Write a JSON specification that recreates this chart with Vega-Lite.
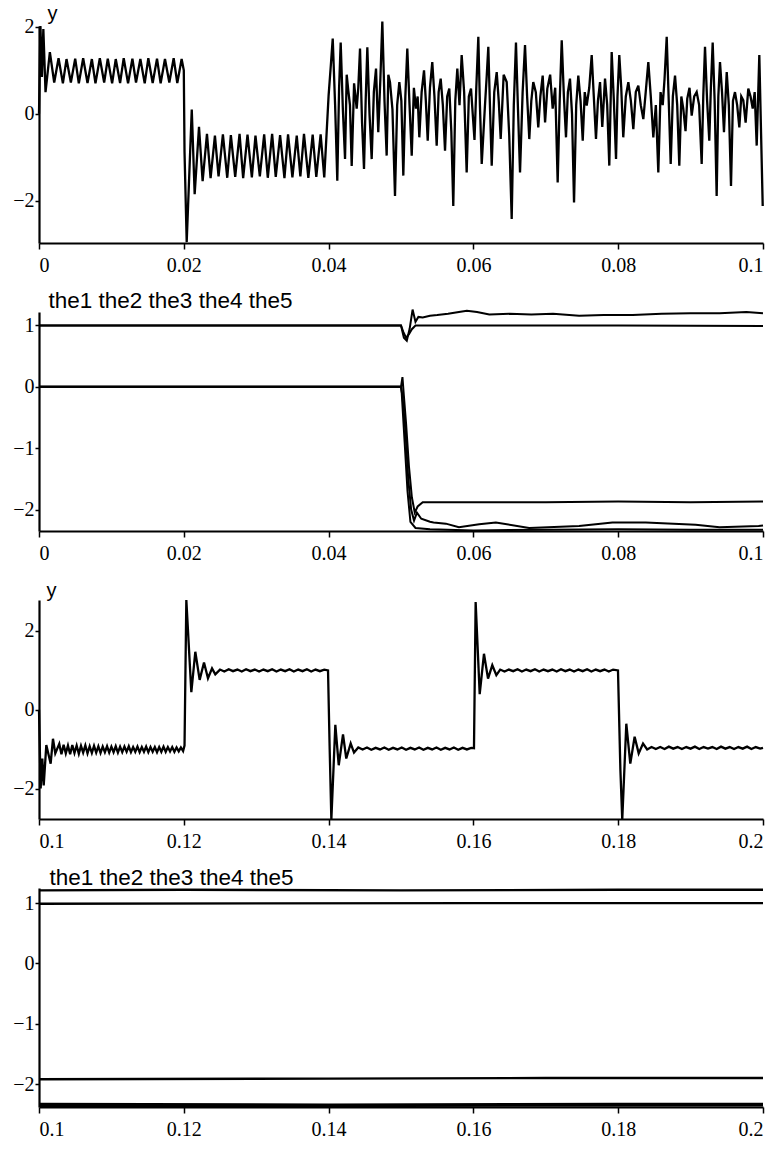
{
  "$schema": "https://vega.github.io/schema/vega-lite/v6.json",
  "background": "white",
  "padding": {"left": 12, "top": 3, "right": 10, "bottom": 5},
  "bounds": "flush",
  "spacing": 69,
  "datasets": {
    "sig1": [
      {"t":0,"v":0},{"t":0.0002,"v":2.02},{"t":0.0004,"v":0.85},{"t":0.0006,"v":1.95},{"t":0.0009,"v":0.5},{"t":0.0015,"v":1.42},{"t":0.0021,"v":0.72},{"t":0.0027,"v":1.28},{"t":0.0033,"v":0.7},{"t":0.0038,"v":1.26},{"t":0.0044,"v":0.72},{"t":0.005,"v":1.27},{"t":0.0055,"v":0.7},{"t":0.0061,"v":1.28},{"t":0.0067,"v":0.71},{"t":0.0073,"v":1.26},{"t":0.0078,"v":0.7},{"t":0.0084,"v":1.28},{"t":0.009,"v":0.72},{"t":0.0095,"v":1.27},{"t":0.0101,"v":0.7},{"t":0.0106,"v":1.26},{"t":0.0112,"v":0.71},{"t":0.0117,"v":1.28},{"t":0.0123,"v":0.7},{"t":0.0129,"v":1.27},{"t":0.0134,"v":0.72},{"t":0.014,"v":1.26},{"t":0.0146,"v":0.7},{"t":0.0151,"v":1.28},{"t":0.0157,"v":0.71},{"t":0.0163,"v":1.27},{"t":0.0168,"v":0.7},{"t":0.0174,"v":1.26},{"t":0.018,"v":0.72},{"t":0.0186,"v":1.28},{"t":0.0191,"v":0.71},{"t":0.0197,"v":1.26},{"t":0.02,"v":1.0},
      {"t":0.0201,"v":-0.88},{"t":0.0204,"v":-2.95},{"t":0.0211,"v":0.1},{"t":0.0215,"v":-1.85},{"t":0.0221,"v":-0.3},{"t":0.0226,"v":-1.55},{"t":0.0232,"v":-0.46},{"t":0.0237,"v":-1.48},{"t":0.0243,"v":-0.5},{"t":0.0248,"v":-1.44},{"t":0.0254,"v":-0.47},{"t":0.026,"v":-1.47},{"t":0.0265,"v":-0.49},{"t":0.0271,"v":-1.45},{"t":0.0277,"v":-0.46},{"t":0.0282,"v":-1.48},{"t":0.0288,"v":-0.48},{"t":0.0294,"v":-1.46},{"t":0.0299,"v":-0.5},{"t":0.0305,"v":-1.44},{"t":0.0311,"v":-0.47},{"t":0.0316,"v":-1.47},{"t":0.0322,"v":-0.46},{"t":0.0327,"v":-1.45},{"t":0.0333,"v":-0.49},{"t":0.0339,"v":-1.48},{"t":0.0344,"v":-0.47},{"t":0.035,"v":-1.46},{"t":0.0356,"v":-0.5},{"t":0.0361,"v":-1.44},{"t":0.0366,"v":-0.46},{"t":0.0372,"v":-1.47},{"t":0.0378,"v":-0.48},{"t":0.0383,"v":-1.45},{"t":0.0389,"v":-0.47},{"t":0.0394,"v":-1.46},{"t":0.04,"v":0.42},
      {"t":0.0403,"v":1.1},{"t":0.04057,"v":1.73},{"t":0.0409,"v":0.2},{"t":0.0412,"v":-1.54},{"t":0.04145,"v":0.6},{"t":0.04167,"v":1.64},{"t":0.04197,"v":0.1},{"t":0.04227,"v":-1.04},{"t":0.0425,"v":0.9},{"t":0.04272,"v":0.54},{"t":0.04295,"v":0.2},{"t":0.04319,"v":-1.2},{"t":0.04352,"v":0.7},{"t":0.04388,"v":0.12},{"t":0.0441,"v":0.6},{"t":0.04434,"v":1.5},{"t":0.04462,"v":-0.2},{"t":0.04489,"v":-1.27},{"t":0.04512,"v":0.3},{"t":0.04535,"v":1.53},{"t":0.04565,"v":0.0},{"t":0.04595,"v":-1.04},{"t":0.04625,"v":0.5},{"t":0.04655,"v":1.04},{"t":0.0467,"v":0.3},{"t":0.04686,"v":-0.42},{"t":0.04715,"v":0.8},{"t":0.04742,"v":2.12},{"t":0.04772,"v":0.3},{"t":0.04802,"v":-0.96},{"t":0.04825,"v":0.9},{"t":0.04848,"v":0.73},{"t":0.04882,"v":0.1},{"t":0.04917,"v":-1.89},{"t":0.04947,"v":0.2},{"t":0.04977,"v":0.73},{"t":0.05005,"v":0.3},{"t":0.05032,"v":-1.42},{"t":0.0506,"v":0.4},{"t":0.05087,"v":1.5},{"t":0.05118,"v":0.2},{"t":0.05148,"v":-0.96},{"t":0.05178,"v":0.6},{"t":0.05207,"v":0.12},{"t":0.0523,"v":0.4},{"t":0.05253,"v":-0.54},{"t":0.05285,"v":0.5},{"t":0.05318,"v":1.0},{"t":0.05343,"v":0.3},{"t":0.05369,"v":-0.62},{"t":0.054,"v":0.6},{"t":0.05432,"v":1.19},{"t":0.05462,"v":0.4},{"t":0.05493,"v":-0.73},{"t":0.0552,"v":0.5},{"t":0.05548,"v":0.81},{"t":0.05578,"v":0.2},{"t":0.05608,"v":-0.85},{"t":0.05638,"v":0.4},{"t":0.05667,"v":0.58},{"t":0.05695,"v":-0.4},{"t":0.05722,"v":-2.12},{"t":0.0575,"v":0.3},{"t":0.05778,"v":1.04},{"t":0.05808,"v":0.2},{"t":0.05838,"v":1.35},{"t":0.05872,"v":0.5},{"t":0.05907,"v":-1.35},{"t":0.05937,"v":0.4},{"t":0.05967,"v":0.58},{"t":0.06015,"v":-0.6},{"t":0.0604,"v":0.6},{"t":0.06068,"v":1.77},{"t":0.0609,"v":0.2},{"t":0.06115,"v":-1.15},{"t":0.0616,"v":0.2},{"t":0.06185,"v":0.9},{"t":0.06206,"v":1.54},{"t":0.0623,"v":0.1},{"t":0.06253,"v":-1.19},{"t":0.06288,"v":0.5},{"t":0.06322,"v":0.96},{"t":0.0635,"v":0.3},{"t":0.06377,"v":-0.58},{"t":0.06418,"v":0.9},{"t":0.0646,"v":0.73},{"t":0.06495,"v":-0.5},{"t":0.06529,"v":-2.42},{"t":0.06558,"v":0.2},{"t":0.06588,"v":1.64},{"t":0.06616,"v":0.1},{"t":0.06644,"v":-1.35},{"t":0.0668,"v":0.5},{"t":0.06713,"v":1.58},{"t":0.06742,"v":0.4},{"t":0.06772,"v":-0.58},{"t":0.068,"v":0.3},{"t":0.06827,"v":0.73},{"t":0.06862,"v":0.5},{"t":0.06896,"v":-0.31},{"t":0.06925,"v":0.4},{"t":0.06957,"v":0.88},{"t":0.0699,"v":-0.2},{"t":0.07021,"v":0.58},{"t":0.0706,"v":0.9},{"t":0.07095,"v":0.12},{"t":0.0713,"v":0.6},{"t":0.07164,"v":-1.58},{"t":0.07192,"v":0.3},{"t":0.0722,"v":1.69},{"t":0.0725,"v":0.4},{"t":0.07279,"v":-0.54},{"t":0.07305,"v":0.5},{"t":0.07334,"v":0.81},{"t":0.07362,"v":0.0},{"t":0.0739,"v":-2.04},{"t":0.0742,"v":0.2},{"t":0.07449,"v":0.88},{"t":0.0748,"v":0.3},{"t":0.0751,"v":-0.62},{"t":0.07538,"v":0.5},{"t":0.07565,"v":0.19},{"t":0.076,"v":0.6},{"t":0.07634,"v":1.35},{"t":0.07663,"v":0.4},{"t":0.07693,"v":-0.58},{"t":0.0772,"v":0.3},{"t":0.07749,"v":0.73},{"t":0.0778,"v":-0.3},{"t":0.07818,"v":0.81},{"t":0.07848,"v":0.2},{"t":0.07877,"v":-1.19},{"t":0.0791,"v":1.42},{"t":0.0794,"v":0.3},{"t":0.0797,"v":-1.04},{"t":0.0799,"v":0.4},{"t":0.08015,"v":1.35},{"t":0.08042,"v":0.6},{"t":0.0807,"v":-0.54},{"t":0.08105,"v":0.4},{"t":0.0814,"v":0.73},{"t":0.08175,"v":0.3},{"t":0.08209,"v":-0.35},{"t":0.08243,"v":0.5},{"t":0.08278,"v":0.65},{"t":0.08312,"v":0.2},{"t":0.08347,"v":-0.12},{"t":0.0838,"v":0.5},{"t":0.08416,"v":1.19},{"t":0.0845,"v":0.4},{"t":0.08485,"v":-0.54},{"t":0.0852,"v":0.2},{"t":0.08554,"v":-1.35},{"t":0.08585,"v":0.5},{"t":0.08615,"v":0.2},{"t":0.0864,"v":0.8},{"t":0.0867,"v":1.77},{"t":0.08698,"v":0.3},{"t":0.08725,"v":-1.15},{"t":0.08755,"v":0.4},{"t":0.08785,"v":0.88},{"t":0.08815,"v":0.2},{"t":0.08844,"v":-1.19},{"t":0.08872,"v":0.4},{"t":0.08899,"v":0.12},{"t":0.0893,"v":-0.4},{"t":0.08954,"v":0.35},{"t":0.08985,"v":0.6},{"t":0.09015,"v":-0.04},{"t":0.0905,"v":0.4},{"t":0.09084,"v":0.5},{"t":0.09118,"v":0.2},{"t":0.09153,"v":-1.15},{"t":0.09175,"v":0.4},{"t":0.09199,"v":1.54},{"t":0.09228,"v":0.3},{"t":0.09258,"v":-0.62},{"t":0.0928,"v":0.6},{"t":0.09305,"v":1.64},{"t":0.09332,"v":0.3},{"t":0.0936,"v":-1.89},{"t":0.09383,"v":0.4},{"t":0.09406,"v":1.19},{"t":0.09434,"v":0.5},{"t":0.09461,"v":-0.42},{"t":0.0948,"v":0.3},{"t":0.09499,"v":0.96},{"t":0.09528,"v":0.2},{"t":0.09558,"v":-1.66},{"t":0.09585,"v":0.3},{"t":0.09613,"v":0.5},{"t":0.09643,"v":0.2},{"t":0.09673,"v":-0.31},{"t":0.097,"v":0.4},{"t":0.09728,"v":0.31},{"t":0.0976,"v":-0.2},{"t":0.09797,"v":0.58},{"t":0.09828,"v":0.4},{"t":0.09858,"v":0.12},{"t":0.09885,"v":0.5},{"t":0.09913,"v":-0.73},{"t":0.09949,"v":1.35},{"t":0.09996,"v":-2.12}
    ],
    "theta1": [
      {"s":"the1","t":0,"v":1.0},{"s":"the1","t":0.05,"v":1.0},{"s":"the1","t":0.0503,"v":0.9},{"s":"the1","t":0.0507,"v":0.8},{"s":"the1","t":0.0511,"v":0.86},{"s":"the1","t":0.0515,"v":0.94},{"s":"the1","t":0.052,"v":1.0},{"s":"the1","t":0.06,"v":1.0},{"s":"the1","t":0.07,"v":1.0},{"s":"the1","t":0.08,"v":1.0},{"s":"the1","t":0.09,"v":0.995},{"s":"the1","t":0.1,"v":0.99},
      {"s":"the2","t":0,"v":1.0},{"s":"the2","t":0.05,"v":1.0},{"s":"the2","t":0.0504,"v":0.8},{"s":"the2","t":0.0508,"v":0.75},{"s":"the2","t":0.0512,"v":0.95},{"s":"the2","t":0.0516,"v":1.26},{"s":"the2","t":0.052,"v":1.06},{"s":"the2","t":0.0524,"v":1.14},{"s":"the2","t":0.053,"v":1.13},{"s":"the2","t":0.054,"v":1.16},{"s":"the2","t":0.055,"v":1.17},{"s":"the2","t":0.0565,"v":1.19},{"s":"the2","t":0.058,"v":1.22},{"s":"the2","t":0.0591,"v":1.24},{"s":"the2","t":0.0605,"v":1.22},{"s":"the2","t":0.0622,"v":1.18},{"s":"the2","t":0.065,"v":1.19},{"s":"the2","t":0.068,"v":1.18},{"s":"the2","t":0.071,"v":1.19},{"s":"the2","t":0.0746,"v":1.16},{"s":"the2","t":0.078,"v":1.17},{"s":"the2","t":0.082,"v":1.17},{"s":"the2","t":0.086,"v":1.19},{"s":"the2","t":0.09,"v":1.2},{"s":"the2","t":0.094,"v":1.2},{"s":"the2","t":0.0977,"v":1.22},{"s":"the2","t":0.1,"v":1.2},
      {"s":"the3","t":0,"v":0},{"s":"the3","t":0.05,"v":0},{"s":"the3","t":0.0502,"v":0.16},{"s":"the3","t":0.0504,"v":-0.15},{"s":"the3","t":0.0507,"v":-0.6},{"s":"the3","t":0.0511,"v":-1.3},{"s":"the3","t":0.0515,"v":-1.8},{"s":"the3","t":0.0519,"v":-2.05},{"s":"the3","t":0.0523,"v":-1.95},{"s":"the3","t":0.053,"v":-1.88},{"s":"the3","t":0.06,"v":-1.88},{"s":"the3","t":0.07,"v":-1.88},{"s":"the3","t":0.08,"v":-1.87},{"s":"the3","t":0.09,"v":-1.88},{"s":"the3","t":0.1,"v":-1.87},
      {"s":"the4","t":0,"v":0},{"s":"the4","t":0.05,"v":0},{"s":"the4","t":0.0502,"v":-0.15},{"s":"the4","t":0.0506,"v":-0.7},{"s":"the4","t":0.051,"v":-1.5},{"s":"the4","t":0.0514,"v":-2.0},{"s":"the4","t":0.0518,"v":-2.18},{"s":"the4","t":0.0522,"v":-2.05},{"s":"the4","t":0.0528,"v":-2.15},{"s":"the4","t":0.054,"v":-2.2},{"s":"the4","t":0.0545,"v":-2.21},{"s":"the4","t":0.0562,"v":-2.23},{"s":"the4","t":0.058,"v":-2.29},{"s":"the4","t":0.0608,"v":-2.24},{"s":"the4","t":0.0631,"v":-2.21},{"s":"the4","t":0.0677,"v":-2.3},{"s":"the4","t":0.0746,"v":-2.27},{"s":"the4","t":0.0792,"v":-2.21},{"s":"the4","t":0.0838,"v":-2.21},{"s":"the4","t":0.0907,"v":-2.25},{"s":"the4","t":0.094,"v":-2.29},{"s":"the4","t":0.0994,"v":-2.27},{"s":"the4","t":0.1,"v":-2.26},
      {"s":"the5","t":0,"v":0},{"s":"the5","t":0.05,"v":0},{"s":"the5","t":0.0501,"v":-0.1},{"s":"the5","t":0.0505,"v":-0.9},{"s":"the5","t":0.0509,"v":-1.7},{"s":"the5","t":0.0513,"v":-2.2},{"s":"the5","t":0.052,"v":-2.3},{"s":"the5","t":0.054,"v":-2.32},{"s":"the5","t":0.06,"v":-2.34},{"s":"the5","t":0.07,"v":-2.33},{"s":"the5","t":0.08,"v":-2.32},{"s":"the5","t":0.09,"v":-2.33},{"s":"the5","t":0.1,"v":-2.33}
    ],
    "sig2": [
      {"t":0.1,"v":0},{"t":0.10023,"v":-1.99},{"t":0.10046,"v":-1.23},{"t":0.10065,"v":-1.91},{"t":0.10101,"v":-0.89},{"t":0.10161,"v":-1.36},{"t":0.10193,"v":-0.73},{"t":0.10225,"v":-1.1},
      {"t":0.1028,"v":-0.86},{"t":0.1031,"v":-1.12},{"t":0.1034,"v":-0.88},{"t":0.1037,"v":-1.1},{"t":0.104,"v":-0.9},{"t":0.1043,"v":-1.12},{"t":0.1046,"v":-0.89},{"t":0.1049,"v":-1.09},{"t":0.1052,"v":-0.9},{"t":0.1055,"v":-1.11},{"t":0.1058,"v":-0.91},{"t":0.1061,"v":-1.08},{"t":0.1064,"v":-0.9},{"t":0.1067,"v":-1.1},{"t":0.107,"v":-0.92},{"t":0.1073,"v":-1.09},{"t":0.1076,"v":-0.91},{"t":0.1079,"v":-1.08},{"t":0.1082,"v":-0.92},{"t":0.1085,"v":-1.09},{"t":0.1088,"v":-0.93},{"t":0.1091,"v":-1.07},{"t":0.1094,"v":-0.92},{"t":0.1097,"v":-1.08},{"t":0.11,"v":-0.93},{"t":0.1103,"v":-1.07},{"t":0.1106,"v":-0.92},{"t":0.1109,"v":-1.08},{"t":0.1112,"v":-0.93},{"t":0.1115,"v":-1.07},{"t":0.1118,"v":-0.93},{"t":0.1121,"v":-1.06},{"t":0.1124,"v":-0.92},{"t":0.1127,"v":-1.07},{"t":0.113,"v":-0.94},{"t":0.1133,"v":-1.06},{"t":0.1136,"v":-0.93},{"t":0.1139,"v":-1.07},{"t":0.1142,"v":-0.94},{"t":0.1145,"v":-1.06},{"t":0.1148,"v":-0.93},{"t":0.1151,"v":-1.07},{"t":0.1154,"v":-0.94},{"t":0.1157,"v":-1.06},{"t":0.116,"v":-0.94},{"t":0.1163,"v":-1.07},{"t":0.1166,"v":-0.94},{"t":0.1169,"v":-1.06},{"t":0.1172,"v":-0.93},{"t":0.1175,"v":-1.06},{"t":0.1178,"v":-0.94},{"t":0.1181,"v":-1.05},{"t":0.1184,"v":-0.94},{"t":0.1187,"v":-1.06},{"t":0.119,"v":-0.95},{"t":0.1193,"v":-1.05},{"t":0.1196,"v":-0.95},{"t":0.1199,"v":-1.04},
      {"t":0.1201,"v":-0.9},{"t":0.12035,"v":2.78},{"t":0.12104,"v":0.45},{"t":0.12159,"v":1.47},{"t":0.12219,"v":0.76},{"t":0.12279,"v":1.2},{"t":0.12334,"v":0.8},{"t":0.1239,"v":1.05},{"t":0.12435,"v":0.9},
      {"t":0.125,"v":1.02},{"t":0.1256,"v":0.97},{"t":0.1262,"v":1.03},{"t":0.1268,"v":0.98},{"t":0.1274,"v":1.02},{"t":0.128,"v":0.97},{"t":0.1286,"v":1.03},{"t":0.1292,"v":0.98},{"t":0.1298,"v":1.02},{"t":0.1304,"v":0.97},{"t":0.131,"v":1.02},{"t":0.1316,"v":0.98},{"t":0.1322,"v":1.03},{"t":0.1328,"v":0.97},{"t":0.1334,"v":1.02},{"t":0.134,"v":0.98},{"t":0.1346,"v":1.03},{"t":0.1352,"v":0.97},{"t":0.1358,"v":1.02},{"t":0.1364,"v":0.98},{"t":0.137,"v":1.03},{"t":0.1376,"v":0.97},{"t":0.1382,"v":1.02},{"t":0.1388,"v":0.98},{"t":0.1394,"v":1.02},{"t":0.13992,"v":1.0},
      {"t":0.14015,"v":-1.0},{"t":0.14038,"v":-2.78},{"t":0.14093,"v":-0.38},{"t":0.1414,"v":-1.4},{"t":0.14199,"v":-0.62},{"t":0.14244,"v":-1.23},{"t":0.14305,"v":-0.85},{"t":0.14351,"v":-1.08},
      {"t":0.1441,"v":-0.95},{"t":0.1447,"v":-1.0},{"t":0.1453,"v":-0.95},{"t":0.1459,"v":-1.01},{"t":0.1465,"v":-0.96},{"t":0.1471,"v":-1.0},{"t":0.1477,"v":-0.95},{"t":0.1483,"v":-1.01},{"t":0.1489,"v":-0.96},{"t":0.1495,"v":-1.0},{"t":0.1501,"v":-0.95},{"t":0.1507,"v":-1.01},{"t":0.1513,"v":-0.96},{"t":0.1519,"v":-1.0},{"t":0.1525,"v":-0.95},{"t":0.1531,"v":-1.01},{"t":0.1537,"v":-0.96},{"t":0.1543,"v":-1.0},{"t":0.1549,"v":-0.95},{"t":0.1555,"v":-1.01},{"t":0.1561,"v":-0.96},{"t":0.1567,"v":-1.0},{"t":0.1573,"v":-0.95},{"t":0.1579,"v":-1.01},{"t":0.1585,"v":-0.96},{"t":0.1591,"v":-1.0},{"t":0.1597,"v":-0.96},
      {"t":0.16008,"v":-0.97},{"t":0.16031,"v":2.73},{"t":0.16087,"v":0.4},{"t":0.16146,"v":1.42},{"t":0.16202,"v":0.79},{"t":0.16261,"v":1.13},{"t":0.16317,"v":0.88},
      {"t":0.1637,"v":1.02},{"t":0.1643,"v":0.97},{"t":0.1649,"v":1.02},{"t":0.1655,"v":0.98},{"t":0.1661,"v":1.03},{"t":0.1667,"v":0.97},{"t":0.1673,"v":1.02},{"t":0.1679,"v":0.98},{"t":0.1685,"v":1.03},{"t":0.1691,"v":0.97},{"t":0.1697,"v":1.02},{"t":0.1703,"v":0.98},{"t":0.1709,"v":1.02},{"t":0.1715,"v":0.97},{"t":0.1721,"v":1.03},{"t":0.1727,"v":0.98},{"t":0.1733,"v":1.02},{"t":0.1739,"v":0.97},{"t":0.1745,"v":1.02},{"t":0.1751,"v":0.98},{"t":0.1757,"v":1.03},{"t":0.1763,"v":0.97},{"t":0.1769,"v":1.02},{"t":0.1775,"v":0.98},{"t":0.1781,"v":1.02},{"t":0.1787,"v":0.97},{"t":0.1793,"v":1.02},{"t":0.17997,"v":1.0},
      {"t":0.1803,"v":-1.5},{"t":0.18056,"v":-2.78},{"t":0.18112,"v":-0.35},{"t":0.18167,"v":-1.36},{"t":0.18227,"v":-0.68},{"t":0.18283,"v":-1.1},{"t":0.18343,"v":-0.85},{"t":0.184,"v":-1.0},
      {"t":0.1846,"v":-0.94},{"t":0.1852,"v":-0.99},{"t":0.1858,"v":-0.94},{"t":0.1864,"v":-0.99},{"t":0.187,"v":-0.93},{"t":0.1876,"v":-0.98},{"t":0.1882,"v":-0.94},{"t":0.1888,"v":-0.99},{"t":0.1894,"v":-0.94},{"t":0.19,"v":-0.98},{"t":0.1906,"v":-0.93},{"t":0.1912,"v":-0.99},{"t":0.1918,"v":-0.94},{"t":0.1924,"v":-0.98},{"t":0.193,"v":-0.94},{"t":0.1936,"v":-0.99},{"t":0.1942,"v":-0.93},{"t":0.1948,"v":-0.98},{"t":0.1954,"v":-0.94},{"t":0.196,"v":-0.99},{"t":0.1966,"v":-0.94},{"t":0.1972,"v":-0.98},{"t":0.1978,"v":-0.93},{"t":0.1984,"v":-0.99},{"t":0.199,"v":-0.94},{"t":0.1996,"v":-0.98},{"t":0.2,"v":-0.96}
    ],
    "theta2": [
      {"s":"the1","t":0.1,"v":0.99},{"s":"the1","t":0.13,"v":0.995},{"s":"the1","t":0.16,"v":1.0},{"s":"the1","t":0.2,"v":1.0},
      {"s":"the2","t":0.1,"v":1.21},{"s":"the2","t":0.12,"v":1.22},{"s":"the2","t":0.15,"v":1.21},{"s":"the2","t":0.18,"v":1.22},{"s":"the2","t":0.2,"v":1.22},
      {"s":"the3","t":0.1,"v":-1.92},{"s":"the3","t":0.14,"v":-1.91},{"s":"the3","t":0.17,"v":-1.9},{"s":"the3","t":0.2,"v":-1.9},
      {"s":"the4","t":0.1,"v":-2.33},{"s":"the4","t":0.14,"v":-2.34},{"s":"the4","t":0.18,"v":-2.33},{"s":"the4","t":0.2,"v":-2.33},
      {"s":"the5","t":0.1,"v":-2.36},{"s":"the5","t":0.15,"v":-2.36},{"s":"the5","t":0.2,"v":-2.35}
    ]
  },
  "vconcat": [
    {
      "width": 724, "height": 217,
      "data": {"name": "sig1"},
      "mark": {"type": "line", "color": "black", "strokeWidth": 2.3},
      "encoding": {
        "x": {"field": "t", "type": "quantitative", "scale": {"domain": [0, 0.1], "nice": false},
              "axis": {"values": [0, 0.02, 0.04, 0.06, 0.08, 0.1], "format": "~g", "title": null}},
        "y": {"field": "v", "type": "quantitative", "scale": {"domain": [-2.97, 2.02], "nice": false, "zero": false},
              "axis": {"values": [-2, 0, 2], "title": "y", "titleAngle": 0, "titleAlign": "center", "titleBaseline": "alphabetic", "titleX": 13, "titleY": -7}}
      }
    },
    {
      "width": 724, "height": 219,
      "data": {"name": "theta1"},
      "mark": {"type": "line", "color": "black", "strokeWidth": 2},
      "encoding": {
        "detail": {"field": "s"},
        "x": {"field": "t", "type": "quantitative", "scale": {"domain": [0, 0.1], "nice": false},
              "axis": {"values": [0, 0.02, 0.04, 0.06, 0.08, 0.1], "format": "~g", "title": null}},
        "y": {"field": "v", "type": "quantitative", "scale": {"domain": [-2.35, 1.22], "nice": false, "zero": false},
              "axis": {"values": [-2, -1, 0, 1], "title": "the1 the2 the3 the4 the5", "titleFontSize": 22.5, "titleAngle": 0, "titleAlign": "left", "titleBaseline": "alphabetic", "titleX": 9, "titleY": -5}}
      }
    },
    {
      "width": 724, "height": 219,
      "data": {"name": "sig2"},
      "mark": {"type": "line", "color": "black", "strokeWidth": 2.3},
      "encoding": {
        "x": {"field": "t", "type": "quantitative", "scale": {"domain": [0.1, 0.2], "nice": false, "zero": false},
              "axis": {"values": [0.1, 0.12, 0.14, 0.16, 0.18, 0.2], "format": "~g", "title": null}},
        "y": {"field": "v", "type": "quantitative", "scale": {"domain": [-2.76, 2.78], "nice": false, "zero": false},
              "axis": {"values": [-2, 0, 2], "title": "y", "titleAngle": 0, "titleAlign": "center", "titleBaseline": "alphabetic", "titleX": 12, "titleY": -4}}
      }
    },
    {
      "width": 724, "height": 219,
      "data": {"name": "theta2"},
      "mark": {"type": "line", "color": "black", "strokeWidth": 2.4},
      "encoding": {
        "detail": {"field": "s"},
        "x": {"field": "t", "type": "quantitative", "scale": {"domain": [0.1, 0.2], "nice": false, "zero": false},
              "axis": {"values": [0.1, 0.12, 0.14, 0.16, 0.18, 0.2], "format": "~g", "title": null}},
        "y": {"field": "v", "type": "quantitative", "scale": {"domain": [-2.38, 1.25], "nice": false, "zero": false},
              "axis": {"values": [-2, -1, 0, 1], "title": "the1 the2 the3 the4 the5", "titleFontSize": 22.5, "titleAngle": 0, "titleAlign": "left", "titleBaseline": "alphabetic", "titleX": 10, "titleY": -4}}
      }
    }
  ],
  "config": {
    "view": {"stroke": null},
    "axis": {
      "grid": false,
      "domainColor": "#000", "domainWidth": 2.2,
      "tickColor": "#000", "tickWidth": 1.5,
      "labelFont": "Liberation Serif", "labelFontSize": 20, "labelColor": "#000", "labelOverlap": false,
      "titleFont": "Liberation Sans", "titleFontSize": 20, "titleFontWeight": "normal", "titleColor": "#000"
    },
    "axisX": {"tickSize": 6, "labelPadding": 6},
    "axisY": {"tickSize": 4, "labelPadding": 1}
  }
}
